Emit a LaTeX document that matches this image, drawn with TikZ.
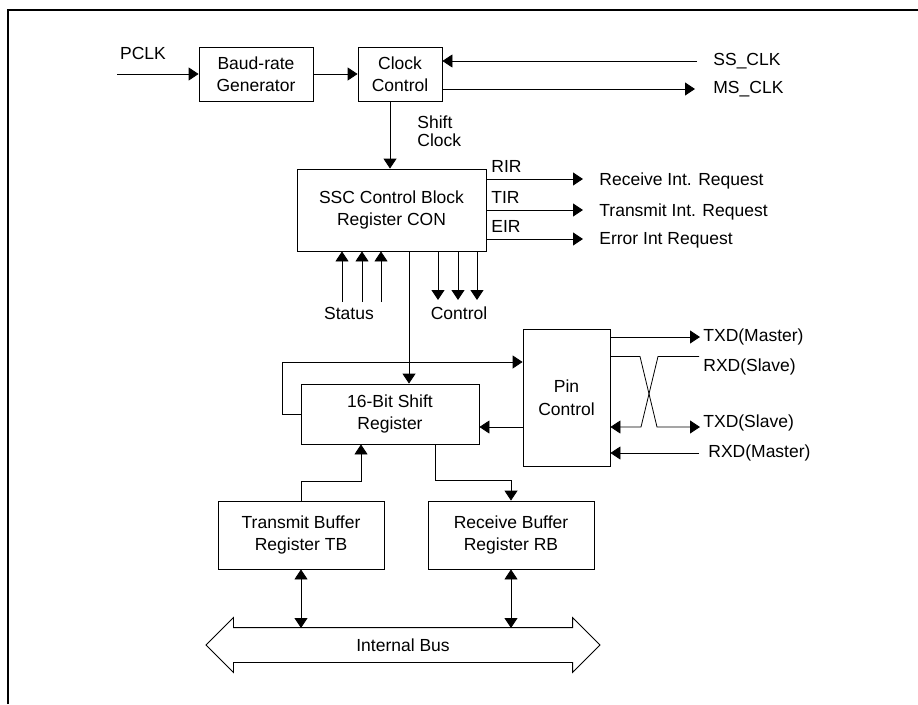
\documentclass[tikz,border=0pt]{standalone}
\usepackage{fontspec}
\setmainfont{Liberation Sans}
\usetikzlibrary{arrows.meta,shapes.arrows,positioning}
\tikzset{
    blk/.style={draw, align=center, inner sep=2pt},
    arr/.style={-{Triangle[length=10pt,width=13pt]}},
    dblarr/.style={{Triangle[length=10pt,width=13pt]}-{Triangle[length=10pt,width=13pt]}},
    lbl/.style={anchor=west, inner sep=0pt},
}

\begin{document}
\begin{tikzpicture}[x=1pt, y=-1pt, line width=0.8pt, font=\fontsize{17.5}{22.5}\selectfont]
\useasboundingbox (0,0) rectangle (918,704);
\draw[line width=1.1pt] (8,704) -- (8,10) -- (918,10);

% blocks
\node[blk, minimum width=114pt, minimum height=54pt] (baud) at (256,74) {Baud-rate\\Generator};
\node[blk, minimum width=84pt, minimum height=54pt] (clk) at (400,74) {Clock\\Control};
\node[blk, minimum width=189pt, minimum height=82pt] (ssc) at (391.5,210) {SSC Control Block\\Register CON};
\node[blk, minimum width=178pt, minimum height=60pt] (shreg) at (390,414) {16-Bit Shift\\Register};
\node[blk, minimum width=87pt, minimum height=137pt] (pin) at (566.5,397.5) {Pin\\Control};
\node[blk, minimum width=166pt, minimum height=68pt] (tb) at (301,535) {Transmit Buffer\\Register TB};
\node[blk, minimum width=166pt, minimum height=68pt] (rb) at (511,535) {Receive Buffer\\Register RB};
\node[draw, double arrow, double arrow head extend=10pt, minimum width=54pt,
      minimum height=394pt, text height=12pt, text depth=0pt, inner xsep=0pt,
      inner ysep=11pt] (bus) at (403,645) {Internal Bus};

% clock path
\node (pclk) at (143,53) {PCLK};
\coordinate (pin0) at (117,74);
\draw[arr] (pin0) -- (baud);
\draw[arr] (baud) -- (clk);
\coordinate (ssclk) at (697,61);
\coordinate (msclk) at (695,89);
\draw[arr] (ssclk) -- (clk.east |- ssclk);
\draw[arr] (clk.east |- msclk) -- (msclk);
\node[lbl] at (713,61) {SS\_CLK};
\node[lbl] at (713,89) {MS\_CLK};
\coordinate (sclk) at (390,130);
\draw[arr] (sclk |- clk.south) -- (sclk |- ssc.north);
\node[lbl, align=left, font=\fontsize{17.5}{18.5}\selectfont] at (417,131) {Shift\\Clock};

% interrupt requests
\foreach \y/\t/\r [count=\i] in {179/RIR/Receive Int. Request, 210/TIR/Transmit Int. Request, 239/EIR/Error Int Request} {
    \coordinate (irq\i) at (583,\y);
    \draw[arr] (ssc.east |- irq\i) -- (irq\i);
    \node[lbl] at (491,\y-13) {\t};
    \node[lbl] at (599,\y+1.5) {\r};
}

% status and control
\foreach \x [count=\i] in {342,362,381} {
    \coordinate (st\i) at (\x,302);
    \draw[arr] (st\i) -- (st\i |- ssc.south);
}
\foreach \x [count=\i] in {438,458,477} {
    \coordinate (ct\i) at (\x,300);
    \draw[arr] (ct\i |- ssc.south) -- (ct\i);
}
\node (status) at (349,313) {Status};
\node (control) at (459,313) {Control};
\coordinate (sc) at (409,300);
\draw[arr] (sc |- ssc.south) -- (sc |- shreg.north);

% shift register and pin control
\coordinate (lp) at (282,362);
\draw[arr] (shreg.west) -| (lp) -- (lp -| pin.west);
\coordinate (rx) at (0,427);
\draw[arr] (pin.west |- rx) -- (shreg.east |- rx);

\coordinate (txm) at (700,337);
\coordinate (rxs) at (699,356.5);
\coordinate (txs) at (700,427);
\coordinate (rxm) at (699,453);
\draw[arr] (pin.east |- txm) -- (txm);
\draw[arr] (rxs) -- (658,356.5) -- (641,427) -- (pin.east |- rx);
\draw[arr] (pin.east |- rxs) -- (640,356.5) -- (657,427) -- (txs);
\draw[arr] (rxm) -- (pin.east |- rxm);
\node[lbl] at (703,337) {TXD(Master)};
\node[lbl] at (703,367) {RXD(Slave)};
\node[lbl] at (703,423) {TXD(Slave)};
\node[lbl] at (708,453) {RXD(Master)};

% buffers
\coordinate (tj) at (361,481);
\draw[arr] (tb.north) |- (tj) -- (tj |- shreg.south);
\coordinate (rj) at (435,480);
\draw[arr] (rj |- shreg.south) -- (rj) -| (rb.north);
\coordinate (bt) at (0,628);
\draw[dblarr] (tb.south) -- (tb.south |- bt);
\draw[dblarr] (rb.south) -- (rb.south |- bt);
\end{tikzpicture}
\end{document}
